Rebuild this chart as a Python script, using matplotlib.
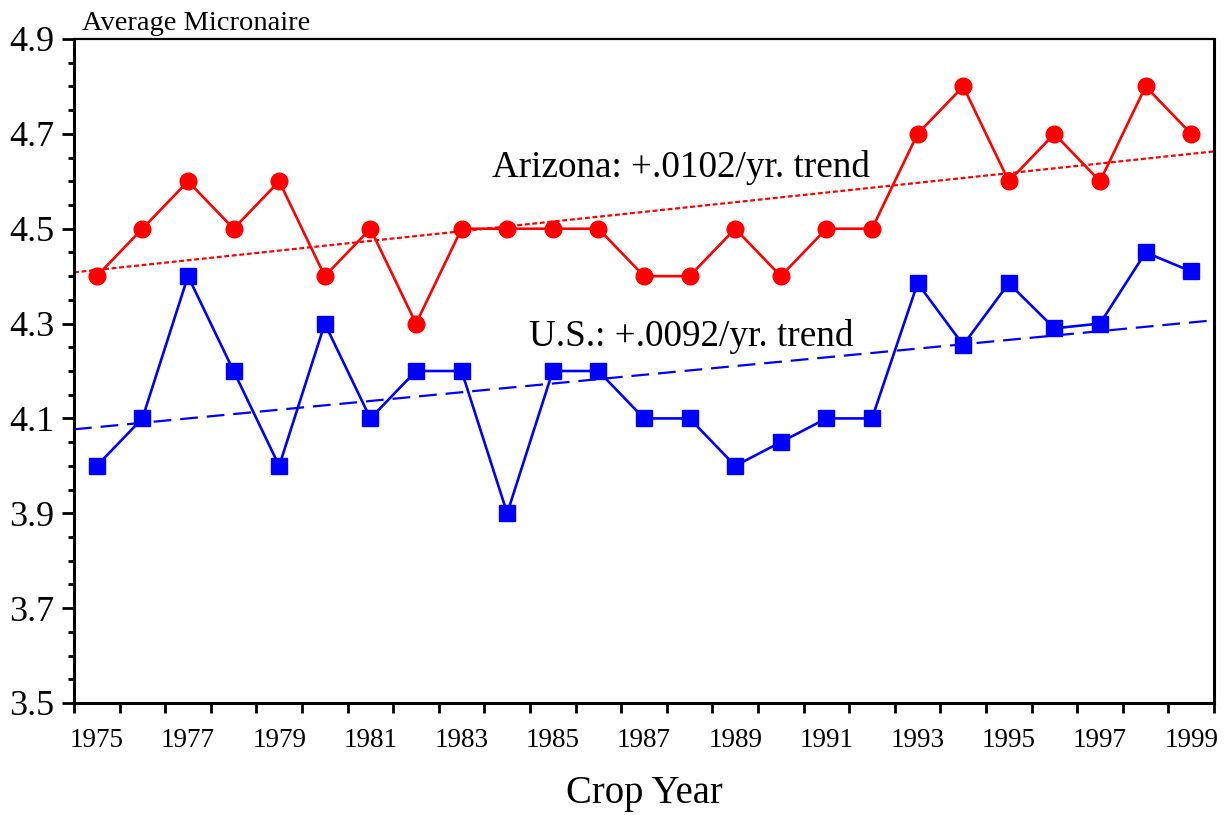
import numpy as np
import matplotlib
matplotlib.use('Agg')
import matplotlib.pyplot as plt
from matplotlib.ticker import MultipleLocator, FixedLocator

plt.rcParams['font.family'] = ['Liberation Serif', 'DejaVu Serif']

years = list(range(1975, 2000))
arizona = [4.4, 4.5, 4.6, 4.5, 4.6, 4.4, 4.5, 4.3, 4.5, 4.5,
           4.5, 4.5, 4.4, 4.4, 4.5, 4.4, 4.5, 4.5, 4.7, 4.8,
           4.6, 4.7, 4.6, 4.8, 4.7]
us = [4.0, 4.1, 4.4, 4.2, 4.0, 4.3, 4.1, 4.2, 4.2, 3.9,
      4.2, 4.2, 4.1, 4.1, 4.0, 4.05, 4.1, 4.1, 4.385, 4.255,
      4.385, 4.29, 4.30, 4.45, 4.41]

# trend lines (value at left edge, slope per year)
az_trend_start, az_slope = 4.408, 0.0102
us_trend_start, us_slope = 4.077, 0.0092
x_left, x_right = 1974.5, 1999.5
year_labels = [str(y) for y in range(1975, 2000, 2)]

fig = plt.figure(figsize=(12.3, 8.15), dpi=100)
ax = fig.add_axes([74 / 1230, 1 - 703 / 815, 1140 / 1230, 664 / 815])

tx = np.array([x_left, x_right])
ax.plot(tx, az_trend_start + az_slope * (tx - x_left), color='red',
        lw=1.6, dashes=(2.2, 1.2))
ax.plot(tx, us_trend_start + us_slope * (tx - x_left), color='blue',
        lw=1.6, dashes=(8, 4))

ax.plot(years, arizona, color='red', lw=1.9, marker='o', markersize=12)
ax.plot(years, us, color='blue', lw=1.9, marker='s', markersize=11.5)

ax.set_xlim(x_left, x_right)
ax.set_ylim(3.5, 4.9)

ax.xaxis.set_major_locator(FixedLocator(range(1975, 2000, 2)))
ax.set_xticklabels(year_labels)
ax.xaxis.set_minor_locator(FixedLocator(np.arange(1974.5, 2000, 1.0)))
ax.tick_params(axis='x', which='major', length=0, pad=18, labelsize=19.5)
ax.tick_params(axis='x', which='minor', length=7, width=2, direction='out')

ax.yaxis.set_major_locator(FixedLocator([3.5, 3.7, 3.9, 4.1, 4.3, 4.5, 4.7, 4.9]))
ax.yaxis.set_major_formatter(plt.FuncFormatter(lambda v, p: '%.1f' % v))
ax.yaxis.set_minor_locator(MultipleLocator(0.05))
ax.tick_params(axis='y', which='major', length=9, width=2, pad=5, labelsize=26)
ax.tick_params(axis='y', which='minor', length=4.5, width=2)

for side in ['left', 'bottom', 'right']:
    ax.spines[side].set_linewidth(2.2)
ax.spines['top'].set_linewidth(1.6)

ax.text(0.007, 1.014, 'Average Micronaire', transform=ax.transAxes,
        fontsize=20.5, va='baseline', ha='left')
ax.text(1987.8, 4.63, 'Arizona: +.0102/yr. trend', fontsize=26.7,
        ha='center', va='center')
ax.text(1988.03, 4.272, 'U.S.: +.0092/yr. trend', fontsize=26.7,
        ha='center', va='center')

ax.set_xlabel('Crop Year', fontsize=27.8, labelpad=16)

fig.savefig('out.png', dpi=100)
